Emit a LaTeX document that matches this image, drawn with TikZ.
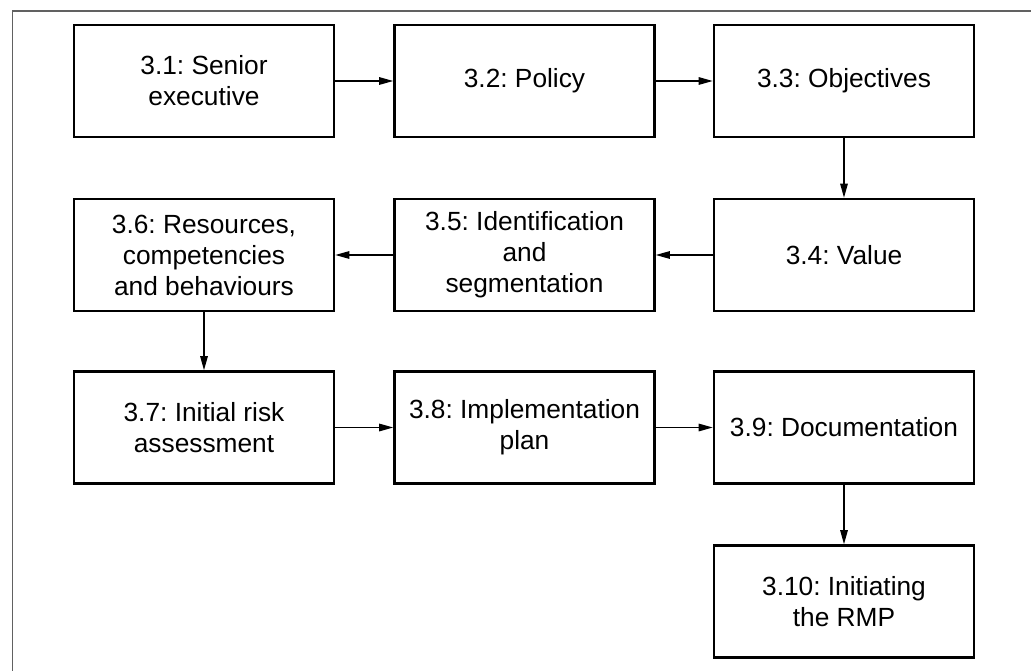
\documentclass[tikz,border=0pt]{standalone}
\usepackage{fontspec}
\setmainfont{Liberation Sans}
\usetikzlibrary{arrows.meta}
\frenchspacing
\begin{document}
\begin{tikzpicture}[x=1pt,y=-1pt,
  stagebox/.style={draw=black, line width=2.6pt, fill=white, minimum width=260pt,
    minimum height=112pt, inner sep=0pt, align=center,
    font=\fontsize{26.3}{31}\selectfont},
  flow/.style={line width=1.3pt, -{Triangle[length=14pt,width=7.5pt]}},
  frameline/.style={draw=black!62, line width=1.4pt}]
\useasboundingbox (0,0) rectangle (1031,671);
% open frame: top and left edges
\coordinate (ftr) at (1031,11);
\coordinate (ftl) at (12.5,11);
\coordinate (fbl) at (12.5,671);
\draw[frameline] (ftr) -- (ftl) -- (fbl);

% stages
\node[stagebox] (s1)  at (204,81)     {3.1: Senior\\executive};
\node[stagebox] (s2)  at (524.5,81)   {3.2: Policy};
\node[stagebox] (s3)  at (844,81)     {3.3: Objectives};
\node[stagebox] (s4)  at (844,255)    {3.4: Value};
\node[stagebox] (s5)  at (524.5,255)  {3.5: Identification\\and\\segmentation};
\node[stagebox] (s6)  at (204,255)    {3.6: Resources,\\competencies\\and behaviours};
\node[stagebox] (s7)  at (204,427.5)  {3.7: Initial risk\\assessment};
\node[stagebox] (s8)  at (524.5,427.5){3.8: Implementation\\plan};
\node[stagebox] (s9)  at (844,427.5)  {3.9: Documentation};
\node[stagebox] (s10) at (844,601.5)  {3.10: Initiating\\the RMP};

% flow between stages
\draw[flow] (s1) -- (s2);
\draw[flow] (s2) -- (s3);
\draw[flow] (s3) -- (s4);
\draw[flow] (s4) -- (s5);
\draw[flow] (s5) -- (s6);
\draw[flow] (s6) -- (s7);
\draw[flow] (s7) -- (s8);
\draw[flow] (s8) -- (s9);
\draw[flow] (s9) -- (s10);
\end{tikzpicture}
\end{document}
